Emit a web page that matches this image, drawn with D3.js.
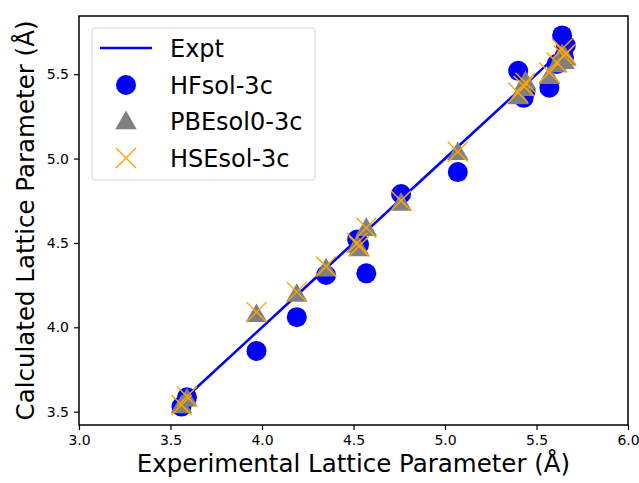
<!DOCTYPE html>
<html lang="en">
<head>
  <meta charset="UTF-8">
  <title>Calculated vs Experimental Lattice Parameter</title>
  <script src="https://d3js.org/d3.v7.min.js"></script>
  <style>
    body { margin: 0; background: #fff; }
    svg { font-family: "DejaVu Sans", sans-serif; }
  </style>
</head>
<body>
  <div id="chart"></div>

  <script>
    // experimental lattice parameters (x) and calculated values per method
    const expt    = [3.56, 3.59, 3.97, 4.19, 4.35, 4.52, 4.53, 4.57, 4.76, 5.07, 5.40, 5.43, 5.44, 5.57, 5.61, 5.64, 5.65, 5.66];
    const hfsol   = [3.53, 3.585, 3.86, 4.06, 4.31, 4.52, 4.49, 4.32, 4.79, 4.92, 5.52, 5.36, 5.40, 5.42, 5.56, 5.73, 5.60, 5.67];
    const pbesol0 = [3.54, 3.58, 4.08, 4.20, 4.35, 4.49, 4.47, 4.59, 4.74, 5.04, 5.37, 5.42, 5.46, 5.49, 5.56, 5.62, 5.58, 5.60];
    const hsesol  = [3.54, 3.59, 4.09, 4.21, 4.36, 4.50, 4.48, 4.59, 4.75, 5.04, 5.39, 5.43, 5.45, 5.51, 5.57, 5.65, 5.61, 5.62];
    const xTicks = [3.0, 3.5, 4.0, 4.5, 5.0, 5.5, 6.0];
    const yTicks = [3.5, 4.0, 4.5, 5.0, 5.5];
    const legendLabels = ["Expt", "HFsol-3c", "PBEsol0-3c", "HSEsol-3c"];

    const W = 639, H = 483;
    const margin = { top: 16, right: 11, bottom: 58, left: 79 };
    const width = W - margin.left - margin.right,
          height = H - margin.top - margin.bottom;

    const svg = d3.select("#chart").append("svg")
      .attr("width", W).attr("height", H);
    const g = svg.append("g")
      .attr("transform", `translate(${margin.left},${margin.top})`);

    const x = d3.scaleLinear().domain([3.0, 6.0]).range([0, width]);
    const y = d3.scaleLinear().domain([3.421, 5.845]).range([height, 0]);

    // Expt line (y = x)
    const sorted = expt.slice().sort(d3.ascending);
    g.append("path")
      .datum(sorted)
      .attr("fill", "none")
      .attr("stroke", "#0000ff")
      .attr("stroke-width", 2.6)
      .attr("d", d3.line().x(d => x(d)).y(d => y(d)));

    const circ = d3.symbol().type(d3.symbolCircle).size(Math.PI * 10 * 10);
    const tri = d3.symbol().type(d3.symbolTriangle).size(200);

    g.selectAll(".hf").data(expt).join("path")
      .attr("transform", (d, i) => `translate(${x(d)},${y(hfsol[i])})`)
      .attr("d", circ)
      .attr("fill", "#0000ff");

    g.selectAll(".pbe").data(expt).join("path")
      .attr("transform", (d, i) => `translate(${x(d)},${y(pbesol0[i]) + 2})`)
      .attr("d", tri)
      .attr("fill", "#808080");

    function cross(sel, r) {
      sel.append("line").attr("x1", -r).attr("y1", -r).attr("x2", r).attr("y2", r);
      sel.append("line").attr("x1", -r).attr("y1", r).attr("x2", r).attr("y2", -r);
    }
    g.selectAll(".hse").data(expt).join("g")
      .attr("transform", (d, i) => `translate(${x(d)},${y(hsesol[i])})`)
      .attr("stroke", "#ffa500")
      .attr("stroke-width", 1.4)
      .call(cross, 10);

    // axes
    const xAxis = g.append("g")
      .attr("transform", `translate(0,${height})`)
      .call(d3.axisBottom(x).tickValues(xTicks).tickFormat(d3.format(".1f")).tickSize(5).tickPadding(5));
    const yAxis = g.append("g")
      .call(d3.axisLeft(y).tickValues(yTicks).tickFormat(d3.format(".1f")).tickSize(5).tickPadding(5));
    [xAxis, yAxis].forEach(a => {
      a.selectAll("text").style("font-size", "14px").attr("fill", "#000").style("font-family", "DejaVu Sans");
      a.selectAll("line").attr("stroke-width", 1.2);
      a.select(".domain").remove();
    });

    // frame
    g.append("rect")
      .attr("width", width).attr("height", height)
      .attr("fill", "none").attr("stroke", "#000").attr("stroke-width", 1.5);

    // axis labels
    svg.append("text")
      .attr("x", margin.left + width / 2).attr("y", 472)
      .attr("text-anchor", "middle")
      .style("font-size", "24.5px")
      .text("Experimental Lattice Parameter (Å)");
    svg.append("text")
      .attr("transform", `translate(34,${margin.top + height / 2}) rotate(-90)`)
      .attr("text-anchor", "middle")
      .style("font-size", "24.5px")
      .text("Calculated Lattice Parameter (Å)");

    // legend
    const lg = svg.append("g").attr("transform", "translate(92,28)");
    lg.append("rect")
      .attr("width", 223).attr("height", 152).attr("rx", 3)
      .attr("fill", "#fff").attr("fill-opacity", 0.8)
      .attr("stroke", "#d6d6d6").attr("stroke-width", 1);
    const rowY = [20, 57, 93, 130];
    lg.append("line")
      .attr("x1", 8).attr("x2", 60).attr("y1", rowY[0]).attr("y2", rowY[0])
      .attr("stroke", "#0000ff").attr("stroke-width", 2.6);
    lg.append("path").attr("transform", `translate(34,${rowY[1]})`).attr("d", circ).attr("fill", "#0000ff");
    lg.append("path").attr("transform", `translate(34,${rowY[2] + 2})`).attr("d", tri).attr("fill", "#808080");
    lg.append("g").attr("transform", `translate(34,${rowY[3]})`)
      .attr("stroke", "#ffa500").attr("stroke-width", 1.4).call(cross, 10);
    lg.selectAll(".lt").data(legendLabels).join("text")
      .attr("x", 78).attr("y", (d, i) => rowY[i] + 9)
      .style("font-size", "24px")
      .text(d => d);
  </script>
</body>
</html>
